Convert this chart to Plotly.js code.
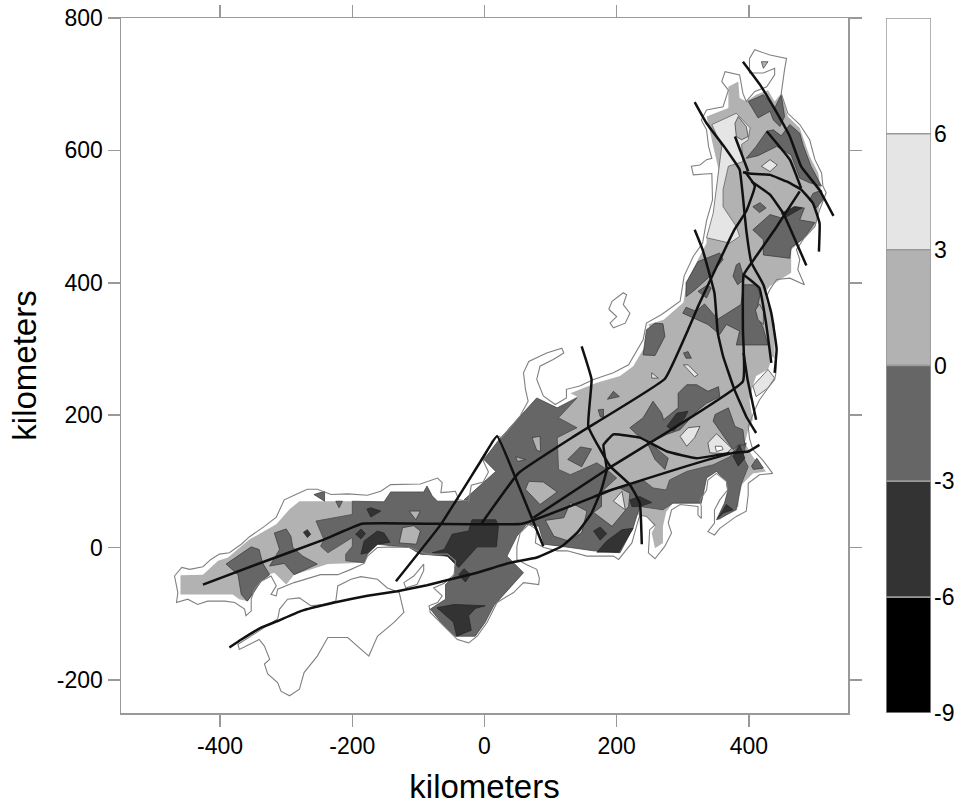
<!DOCTYPE html>
<html><head><meta charset="utf-8">
<script src="https://cdn.plot.ly/plotly-3.0.1.min.js"></script>
<style>html,body{margin:0;padding:0;background:#fff}</style></head>
<body><div id="chart" style="width:961px;height:805px"></div>
<script>
const tickLabelsColor = [6,3,0,-3,-6,-9];
const bandLow = [6,3,0,-3,-6,-9];
const bandColors = ['#ffffff','#e5e5e5','#b2b2b2','#666666','#333333','#000000'];

const coastHonshu = [[-469,-43],[-458,-30],[-446,-33],[-426,-29],[-414,-18],[-401,-10],[-386,-8],[-368,5],[-356,16],[-333,32],[-315,46],[-303,72],[-288,79],[-268,88],[-253,88],[-232,80],[-207,81],[-177,79],[-157,85],[-142,95],[-97,96],[-71,105],[-64,98],[-66,83],[-53,84],[-44,85],[-39,72],[-24,70],[-20,94],[-2,99],[6,114],[-2,131],[11,161],[19,169],[26,166],[54,199],[66,221],[62,239],[59,264],[67,281],[94,294],[117,301],[120,294],[104,284],[84,274],[79,254],[89,229],[107,216],[124,226],[124,239],[144,244],[165,254],[195,264],[218,276],[240,314],[245,339],[268,352],[296,372],[302,410],[316,440],[330,460],[336,494],[345,525],[344,565],[316,563],[313,576],[326,578],[336,586],[344,588],[339,606],[336,631],[328,646],[336,661],[361,666],[369,691],[359,704],[364,719],[386,714],[391,686],[396,674],[409,689],[427,696],[439,714],[439,724],[422,717],[401,717],[401,739],[409,752],[432,744],[457,739],[454,722],[449,686],[459,656],[477,639],[492,616],[500,586],[510,566],[512,546],[517,536],[507,510],[500,485],[484,468],[472,450],[477,435],[474,420],[484,397],[462,407],[442,405],[432,390],[427,380],[437,339],[442,299],[441,264],[439,254],[429,241],[416,223],[409,208],[399,183],[401,165],[406,148],[421,132],[436,112],[416,110],[399,97],[399,80],[396,55],[381,47],[356,29],[348,19],[338,24],[348,37],[348,57],[356,72],[368,87],[366,100],[351,112],[338,102],[336,87],[326,72],[328,62],[328,44],[323,49],[323,62],[296,65],[283,57],[278,37],[283,22],[273,2],[258,-17],[248,-8],[250,27],[258,34],[245,47],[235,49],[230,32],[223,7],[203,-18],[195,-13],[155,-13],[125,-5],[110,-5],[90,0],[77,7],[79,27],[67,35],[54,22],[49,2],[49,-18],[64,-26],[79,-33],[83,-46],[82,-56],[59,-53],[44,-68],[19,-83],[4,-113],[-11,-134],[-24,-144],[-41,-139],[-56,-124],[-82,-98],[-84,-88],[-71,-83],[-64,-73],[-77,-61],[-61,-54],[-46,-41],[-44,-20],[-56,-10],[-87,-10],[-114,0],[-137,1],[-162,0],[-177,-13],[-182,-24],[-202,-33],[-222,-41],[-248,-41],[-288,-53],[-313,-63],[-315,-73],[-323,-71],[-315,-58],[-323,-43],[-338,-51],[-348,-63],[-353,-78],[-353,-96],[-361,-103],[-363,-93],[-378,-83],[-393,-81],[-419,-81],[-434,-86],[-449,-78],[-466,-83],[-464,-68],[-469,-43]];
const coastShikoku = [[-225,-81],[-222,-58],[-202,-48],[-187,-44],[-162,-48],[-147,-61],[-129,-68],[-122,-98],[-137,-113],[-162,-134],[-175,-164],[-187,-154],[-207,-136],[-237,-136],[-253,-164],[-273,-189],[-280,-214],[-295,-224],[-308,-217],[-313,-204],[-328,-191],[-333,-176],[-325,-169],[-333,-149],[-341,-139],[-371,-154],[-373,-146],[-338,-124],[-313,-108],[-310,-93],[-298,-78],[-280,-76],[-263,-88],[-245,-86],[-225,-81]];
const coastSado = [[188,360],[193,372],[210,385],[215,382],[210,367],[220,354],[213,339],[195,332],[190,339],[200,349],[188,360]];
const coastAwaji = [[-92,-25],[-107,-43],[-122,-53],[-119,-61],[-102,-56],[-92,-35],[-92,-25]];

const northPath = [[-200,70],[-152,69],[-142,84],[-92,84],[-87,93],[-79,78],[-71,70],[-24,70],[-31,72],[17,115],[-1,133],[22,163],[79,226],[110,211]];
const kiiPath = [[225,30],[205,-8],[165,-5],[115,2],[90,5],[82,32],[64,35],[49,17],[34,-13],[59,-38],[32,-68],[14,-88],[1,-113],[-14,-134],[-44,-134],[-61,-119],[-82,-93],[-59,-78],[-59,-56],[-46,-43],[-44,-25],[-56,-13],[-97,-10],[-114,0],[-162,5],[-177,-10],[-182,-23]];
const baseEast = [[140,228],[130,233],[170,249],[205,259],[225,274],[255,324],[248,337],[271,344],[301,370],[306,402],[323,435],[336,460],[336,470],[346,500],[354,571],[341,631],[336,651],[369,664],[369,696],[384,704],[386,679],[396,674],[411,684],[429,691],[439,674],[449,686],[459,651],[477,634],[492,591],[505,566],[510,535],[502,490],[487,470],[464,450],[464,415],[432,395],[424,385],[427,370],[439,339],[439,284],[436,289],[429,269],[411,259],[406,244],[401,223],[406,193],[399,178],[394,158],[406,137],[426,115],[406,112],[386,92],[384,62],[356,42],[351,42],[363,67],[368,85],[366,100],[351,115],[336,105],[328,67],[285,67],[275,54],[270,32],[270,7],[258,-1],[253,22],[258,32],[245,47],[230,50]];
const baseWest = [[-212,-24],[-237,-25],[-288,-41],[-300,-56],[-318,-38],[-328,-41],[-343,-53],[-348,-68],[-358,-81],[-371,-78],[-381,-71],[-460,-71],[-460,-42],[-426,-41],[-403,-20],[-388,-15],[-356,12],[-315,35],[-295,58],[-280,70]];
const midMainUpper = [[140,226],[112,196],[140,181],[110,166],[112,118],[130,110],[170,128],[185,118],[200,105],[178,85],[220,93],[240,102],[255,90],[275,87],[280,102],[306,115],[346,125],[371,137],[384,155],[396,158],[391,137],[399,122],[389,97],[381,57],[356,44],[351,42],[363,67],[368,85],[366,100],[351,115],[336,105],[328,67],[285,67],[270,57],[235,62]];
const midMainWest = [[-210,-20],[-210,-10],[-200,2],[-200,15],[-237,-8],[-248,2],[-243,12],[-255,40],[-200,50]];

const lightBands = [
 [[344,639],[381,656],[402,634],[399,616],[389,609],[391,583],[369,576],[361,541],[361,515],[381,485],[386,470],[371,460],[336,468],[346,505],[359,606]],
 [[406,244],[429,269],[439,256],[429,241],[411,228],[409,236]],
 [[195,70],[208,85],[213,57]],
 [[296,168],[308,181],[326,183],[318,166],[306,153]],
 [[338,158],[351,172],[374,150],[366,142],[341,143]],
 [[253,264],[263,256],[253,256]],
 [[301,276],[308,276],[323,261],[318,258]],
 [[419,576],[432,586],[443,578],[432,568]]
];
const midPatches = [
 [[-391,-25],[-353,1],[-341,-3],[-336,-23],[-325,-41],[-338,-51],[-348,-66],[-359,-81],[-368,-71],[-373,-41]],
 [[-318,22],[-300,28],[-293,17],[-290,0],[-275,-13],[-253,-25],[-288,-41],[-303,-24],[-325,-28],[-310,-3]],
 [[-225,70],[-215,70],[-220,60]],
 [[-258,80],[-242,85],[-242,70]],
 [[220,181],[240,196],[255,221],[268,203],[271,193],[293,211],[293,233],[306,246],[321,246],[338,236],[354,243],[356,228],[336,218],[321,206],[296,178],[276,171],[250,158],[278,135],[273,118],[258,133],[245,161],[230,171]],
 [[126,133],[145,152],[162,149],[147,122]],
 [[172,208],[180,209],[180,196],[175,198]],
 [[186,224],[195,236],[204,228]],
 [[301,294],[308,296],[313,286],[305,286]],
 [[349,201],[369,211],[379,183],[391,178],[394,155],[384,155],[376,148],[346,191]],
 [[404,123],[412,135],[422,120],[407,118]],
 [[240,291],[245,329],[258,339],[270,338],[273,319],[258,290]],
 [[305,379],[305,400],[323,432],[356,445],[361,435],[338,407],[318,389]],
 [[323,387],[338,397],[343,392],[336,377]],
 [[300,354],[305,363],[320,357],[333,368],[353,345],[388,367],[392,397],[411,397],[417,382],[411,354],[421,334],[429,306],[381,306],[386,327],[366,337],[356,322],[338,337],[323,344]],
 [[376,410],[381,427],[386,430],[393,405],[383,397]],
 [[406,480],[432,503],[449,498],[469,515],[484,513],[477,495],[500,491],[484,468],[464,453],[462,437],[422,442],[422,465]],
 [[396,588],[411,606],[427,629],[437,631],[449,622],[462,639],[477,626],[482,608],[494,576],[510,546],[492,551],[477,558],[464,593],[442,606],[414,592]],
 [[399,674],[422,684],[439,664],[449,684],[454,651],[447,636],[437,646],[432,659],[414,649]],
 [[497,535],[510,540],[512,525],[502,513],[492,525]],
 [[406,515],[417,521],[426,513],[416,506]]
];
const zeroPatches = [
 [[62,88],[67,100],[89,99],[110,84],[84,65]],
 [[92,41],[120,45],[130,68],[155,55],[147,22],[127,10],[105,17]],
 [[165,53],[177,62],[177,83],[205,90],[220,82],[218,62],[193,32]],
 [[-129,7],[-124,30],[-107,33],[-97,25],[-103,5]],
 [[-114,55],[-97,55],[-104,42]],
 [[72,166],[84,168],[85,145],[79,147]],
 [[47,137],[62,133],[50,130]],
 [[410,359],[416,368],[422,357],[422,337],[414,344]],
 [[379,641],[384,651],[396,636],[399,621],[389,616],[381,621]],
 [[419,734],[429,734],[422,724]]
];
const darkPatches = [
 [[-49,20],[-24,25],[-19,42],[17,42],[21,32],[18,1],[-11,1],[-26,-15],[-39,-30],[-56,-13],[-79,-8],[-61,-3]],
 [[-72,-91],[-46,-86],[1,-88],[-14,-92],[-24,-103],[-20,-125],[-42,-134],[-47,-113]],
 [[-187,-10],[-182,10],[-162,25],[-152,22],[-143,8],[-162,5],[-177,-8]],
 [[-178,58],[-172,60],[-157,55],[-172,46]],
 [[-195,20],[-187,28],[-180,21],[-187,13]],
 [[-274,23],[-268,27],[-263,20],[-268,15]],
 [[-39,-41],[-31,-32],[-21,-41],[-29,-52]],
 [[165,25],[175,31],[185,21],[175,11]],
 [[220,72],[235,77],[253,68],[235,62],[223,62]],
 [[170,-7],[203,-7],[225,29],[208,27],[185,10]],
 [[276,183],[291,203],[308,206],[303,196],[286,176]],
 [[386,155],[376,138],[384,123],[394,135]],
 [[353,44],[366,65],[376,57],[361,52]],
 [[449,505],[469,515],[480,513],[464,503],[454,498]]
];
const whitePatches = [
 [[349,153],[359,153],[361,148],[351,145]]
];
const faults = [
 [[-386,-151],[-368,-139],[-338,-121],[-313,-111],[-278,-96],[-227,-83],[-177,-73],[-132,-66],[-87,-57],[-51,-48],[-11,-38],[39,-23],[79,-15],[117,2],[140,22],[162,52],[177,88],[185,118],[180,155],[195,171],[235,166],[276,145],[321,135],[371,143]],
 [[-426,-56],[-338,-23],[-243,12],[-185,36],[57,36],[195,88],[296,120],[376,143],[399,145],[416,155]],
 [[74,45],[185,118],[391,251],[391,329],[392,412],[411,440],[439,480],[452,500],[477,538]],
 [[391,567],[401,565],[432,563],[457,553],[479,541],[497,520],[507,490],[506,447]],
 [[-134,-51],[-66,35],[-6,130],[19,168],[49,100],[89,2]],
 [[-4,37],[52,113],[140,171],[273,255],[308,329],[323,364],[378,480],[396,508],[409,546],[394,568]],
 [[147,304],[162,254],[157,183],[190,123],[220,95],[235,67],[238,5]],
 [[318,673],[336,641],[366,601],[386,571],[391,530],[396,480],[404,430],[422,397],[434,354],[442,300],[439,264]],
 [[392,294],[398,254],[411,193]],
 [[392,412],[416,392],[426,339],[434,279]],
 [[318,480],[330,450],[348,384],[353,324],[361,289],[378,239],[396,198],[411,173]],
 [[379,621],[399,568]],
 [[391,734],[417,699],[437,666],[462,621],[479,576],[507,540],[528,501]],
 [[427,629],[462,586],[479,543]],
 [[404,553],[432,533],[452,505],[487,426]]
];

const xs = p => p.map(q => q[0]).concat([p[0][0]]);
const ys = p => p.map(q => q[1]).concat([p[0][1]]);
const poly = (p, fill, lc, lw) => ({type:'scatter',mode:'lines',x:xs(p),y:ys(p),fill:'toself',fillcolor:fill,
  line:{color:lc,width:lw},hoverinfo:'skip',showlegend:false});

const traces = [];
traces.push(poly(northPath.concat(baseEast, kiiPath, baseWest), '#b2b2b2', 'rgba(0,0,0,0)', 0));
traces.push(poly(northPath.concat(midMainUpper, kiiPath, midMainWest), '#666666', '#444444', 0.7));
lightBands.slice(0,1).forEach(p => traces.push(poly(p,'#e5e5e5','#555555',0.7)));
midPatches.forEach(p => traces.push(poly(p,'#666666','#333333',0.7)));
zeroPatches.forEach(p => traces.push(poly(p,'#b2b2b2','#333333',0.7)));
lightBands.slice(1).forEach(p => traces.push(poly(p,'#e5e5e5','#333333',0.7)));
darkPatches.forEach(p => traces.push(poly(p,'#333333','#222222',0.7)));
whitePatches.forEach(p => traces.push(poly(p,'#ffffff','#333333',0.7)));
[coastHonshu,coastShikoku,coastSado,coastAwaji].forEach(p => traces.push({type:'scatter',mode:'lines',x:p.map(q=>q[0]),y:p.map(q=>q[1]),
  line:{color:'#808080',width:1.1},hoverinfo:'skip',showlegend:false}));
faults.forEach(p => traces.push({type:'scatter',mode:'lines',x:p.map(q=>q[0]),y:p.map(q=>q[1]),
  line:{color:'#111111',width:2.5,shape:'spline',smoothing:0.3},hoverinfo:'skip',showlegend:false}));

bandLow.forEach((lo,i) => traces.push({type:'bar',x:[0],y:[3],base:[lo],width:[1],xaxis:'x2',yaxis:'y2',
  marker:{color:bandColors[i],line:{color:'#999999',width:1.5}},hoverinfo:'skip',showlegend:false}));

const F = 'Liberation Sans, Arial, sans-serif';
const axisBase = {showgrid:false,zeroline:false,showline:true,linecolor:'#999999',linewidth:1.5,
  ticks:'outside',ticklen:12,tickcolor:'#999999',tickwidth:1.5,mirror:'allticks',
  tickfont:{family:F,size:23,color:'#000'}};
const W = 810;
const layout = {
  width:961,height:805,margin:{l:121,r:30,t:18,b:92},paper_bgcolor:'#fff',plot_bgcolor:'#fff',
  barmode:'overlay',showlegend:false,
  xaxis:Object.assign({},axisBase,{domain:[0,727/W],range:[-550,550],tickvals:[-400,-200,0,200,400],ticktext:['-400','-200','0','200','400'],
    title:{text:'kilometers',font:{family:F,size:33,color:'#000'},standoff:20}}),
  yaxis:Object.assign({},axisBase,{range:[-250,800],tickvals:[-200,0,200,400,600,800],ticktext:['-200','0','200','400','600','800'],
    title:{text:'kilometers',font:{family:F,size:33,color:'#000'},standoff:10}}),
  xaxis2:{domain:[765/W,1],anchor:'y2',range:[-0.5,0.5],showticklabels:false,ticks:'',showgrid:false,zeroline:false,showline:false},
  yaxis2:{domain:[0,1],anchor:'x2',side:'right',range:[-9,9],tickvals:tickLabelsColor,ticktext:tickLabelsColor.map(String),
    ticks:'',showgrid:false,zeroline:false,showline:false,tickfont:{family:F,size:23,color:'#000'},ticklabelstandoff:2}
};
Plotly.newPlot('chart',traces,layout,{displayModeBar:false,staticPlot:true});
</script></body></html>
